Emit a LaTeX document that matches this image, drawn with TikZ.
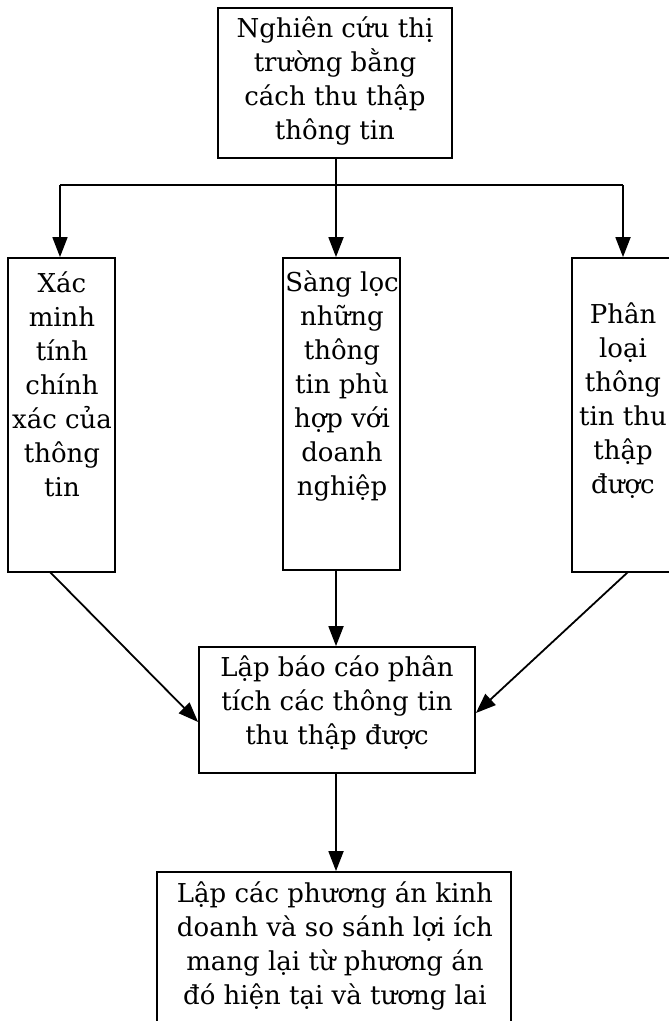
\documentclass[tikz,border=0pt]{standalone}
\usepackage{fontspec}
\setmainfont{DejaVu Serif}
\usetikzlibrary{arrows.meta}
\tikzset{
  box/.style={draw, line width=1.8pt, inner sep=0pt},
  txt/.style={align=center, inner sep=0pt, font=\fontsize{26}{34}\selectfont},
  conn/.style={line width=1.8pt},
  arr/.style={conn, -{Triangle[width=15pt,length=20pt]}}
}
\begin{document}
\begin{tikzpicture}[x=1pt,y=-1pt]
\useasboundingbox (0,0) rectangle (669,1021);
\clip (0,0) rectangle (669,1021);
% boxes
\node[box, minimum width=234pt, minimum height=150pt] (top) at (335,83) {};
\node[box, minimum width=107pt, minimum height=314pt] (left) at (61.5,415) {};
\node[box, minimum width=117pt, minimum height=312pt] (mid) at (341.5,414) {};
\node[box, minimum width=106pt, minimum height=314pt] (right) at (625,415) {};
\node[box, minimum width=276pt, minimum height=126pt] (rep) at (337,710) {};
\node[box, minimum width=354pt, minimum height=200pt] (plan) at (334,972) {};
% texts
\node[txt] (ttop) at (335,81) {Nghiên cứu thị\\trường bằng\\cách thu thập\\thông tin};
\node[txt] (tleft) at (62,384) {Xác\\minh\\tính\\chính\\xác của\\thông\\tin};
\node[txt] (tmid) at (342,386) {Sàng lọc\\những\\thông\\tin phù\\hợp với\\doanh\\nghiệp};
\node[txt] (tright) at (623,401) {Phân\\loại\\thông\\tin thu\\thập\\được};
\node[txt] (trep) at (337,703) {Lập báo cáo phân\\tích các thông tin\\thu thập được};
\node[txt] (tplan) at (335,946) {Lập các phương án kinh\\doanh và so sánh lợi ích\\mang lại từ phương án\\đó hiện tại và tương lai};
% connectors
\coordinate (j) at (336,185);
\coordinate (jl) at (60,185);
\coordinate (jr) at (623,185);
\draw[conn] (top.south -| j) -- (j);
\draw[conn] (jl) -- (jr);
\draw[arr] (jl) -- (jl |- left.north);
\draw[arr] (j) -- (j |- mid.north);
\draw[arr] (jr) -- (jr |- right.north);
\draw[arr] (j |- mid.south) -- (j |- rep.north);
\coordinate (ls) at (50,572);
\coordinate (rs) at (628,572);
\draw[arr] (ls) -- (rep.west |- 0,722);
\draw[arr] (rs) -- (rep.east |- 0,713);
\draw[arr] (j |- rep.south) -- (j |- plan.north);
\end{tikzpicture}
\end{document}
